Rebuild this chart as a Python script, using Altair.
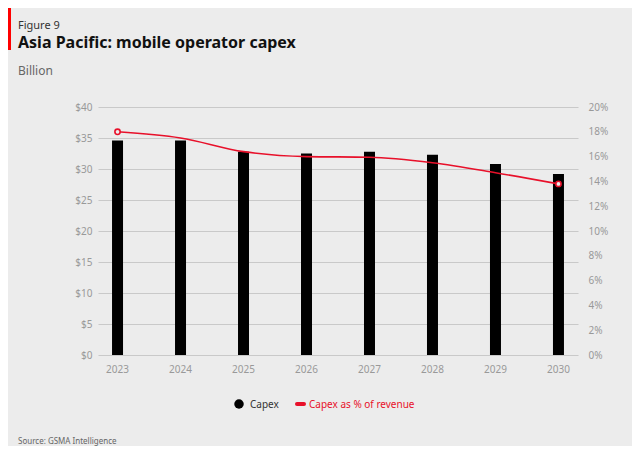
import altair as alt
import pandas as pd

years = ["2023", "2024", "2025", "2026", "2027", "2028", "2029", "2030"]
capex = [34.6, 34.6, 32.8, 32.5, 32.8, 32.3, 30.8, 29.2]
pct = [18.0, 17.5, 16.4, 16.0, 15.95, 15.5, 14.7, 13.8]

series_names = ["Capex", "Capex as % of revenue"]
fig_label = "Figure 9"
title_text = "Asia Pacific: mobile operator capex"
unit_text = "Billion"
source_text = "Source: GSMA Intelligence"

RED = "#e8102a"
BG = "#ececec"
FONT = "Noto Sans"

df = pd.DataFrame({"year": years, "capex": capex, "pct": pct})
ends = df.iloc[[0, len(df) - 1]]

x_enc = alt.X("year:O", title=None,
              scale=alt.Scale(paddingInner=0.38, paddingOuter=0.0),
              axis=alt.Axis(labelAngle=0, ticks=False, domain=False,
                            labelPadding=9, labelColor="#999999",
                            labelFontSize=10, labelFont=FONT, grid=False))

bars = alt.Chart(df).mark_bar(size=11, color="#000000").encode(
    x=x_enc,
    y=alt.Y("capex:Q", title=None,
            scale=alt.Scale(domain=[0, 40]),
            axis=alt.Axis(values=list(range(0, 41, 5)),
                          labelExpr="'$' + datum.value",
                          ticks=False, domain=False, labelPadding=6,
                          labelColor="#999999", labelFontSize=10,
                          labelFont=FONT, gridColor="#c9c9c9",
                          gridWidth=1)),
)

line = alt.Chart(df).mark_line(color=RED, strokeWidth=1.6,
                               interpolate="monotone").encode(
    x=alt.X("year:O"),
    y=alt.Y("pct:Q", title=None,
            scale=alt.Scale(domain=[0, 20]),
            axis=alt.Axis(orient="right", values=list(range(0, 21, 2)),
                          labelExpr="datum.value + '%'",
                          ticks=False, domain=False, labelPadding=10,
                          labelColor="#999999", labelFontSize=10,
                          labelFont=FONT, grid=False)),
)

pts = alt.Chart(ends).mark_point(shape="circle", size=28, filled=True,
                                 fill=BG, stroke=RED, strokeWidth=1.6,
                                 opacity=1).encode(
    x=alt.X("year:O"),
    y=alt.Y("pct:Q", scale=alt.Scale(domain=[0, 20]), axis=None),
)

def txt(label, x, y, size, color, weight="normal", align="left"):
    return alt.Chart(pd.DataFrame({"t": [label]})).mark_text(
        align=align, baseline="alphabetic", fontSize=size, color=color,
        fontWeight=weight, font=FONT).encode(
        text="t:N", x=alt.value(x), y=alt.value(y))

fig_t = txt(fig_label, -80, -78, 11, "#333333")
title_t = txt(title_text, -80, -59, 16, "#111111", weight="bold")
unit_t = txt(unit_text, -80, -32, 12, "#666666")
src_t = txt(source_text, -80, 337, 8, "#666666")

leg_dot = alt.Chart(pd.DataFrame({"t": [series_names[0]]})).mark_point(
    shape="circle", filled=True, size=90, color="#000000", opacity=1).encode(
    x=alt.value(141), y=alt.value(297))
leg_t1 = txt(series_names[0], 152, 301, 10, "#333333")
leg_line = alt.Chart(pd.DataFrame({"t": [series_names[1]]})).mark_rule(
    color=RED, strokeWidth=4, strokeCap="round").encode(
    x=alt.value(199), x2=alt.value(206), y=alt.value(297))
leg_t2 = txt(series_names[1], 211, 301, 10, RED)

stripe = alt.Chart(pd.DataFrame({"t": ["s"]})).mark_rect(color="#ff0000").encode(
    x=alt.value(-90), x2=alt.value(-87), y=alt.value(-99), y2=alt.value(-57))

chart = alt.layer(
    bars, line, pts, fig_t, title_t, unit_t, src_t,
    leg_dot, leg_t1, leg_line, leg_t2, stripe
).resolve_scale(y="independent").properties(
    width=480, height=248,
    autosize=alt.AutoSizeParams(type="none"),
    padding={"left": 90, "top": 99, "right": 54, "bottom": 91},
).configure(background=BG).configure_view(stroke=None)

chart.save("out.html", embed_options={"renderer": "svg", "actions": False})
